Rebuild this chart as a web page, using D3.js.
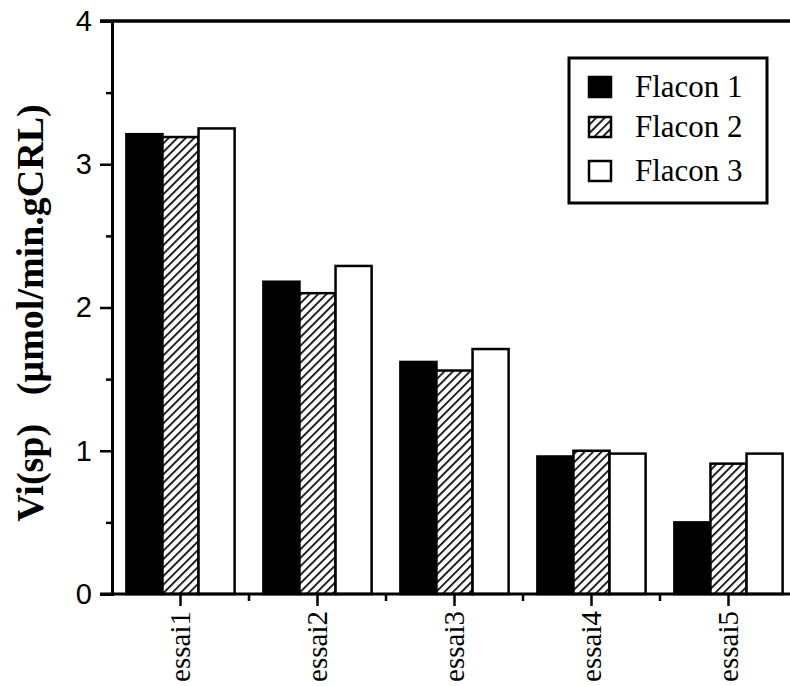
<!DOCTYPE html>
<html><head><meta charset="utf-8">
<script src="https://cdn.jsdelivr.net/npm/d3@7"></script>
<style>html,body{margin:0;padding:0;background:#fff;}svg{display:block;}
.serif{font-family:"Liberation Serif","Times New Roman","DejaVu Serif",serif;}
.sans{font-family:"Liberation Sans",Arial,Helvetica,sans-serif;}
</style>
</head><body>
<svg id="c" width="790" height="686"></svg>
<script>
const categories = ["essai1","essai2","essai3","essai4","essai5"];
const seriesNames = ["Flacon 1","Flacon 2","Flacon 3"];
const flacon1 = [3.21, 2.18, 1.62, 0.96, 0.50];
const flacon2 = [3.19, 2.10, 1.56, 1.00, 0.91];
const flacon3 = [3.25, 2.29, 1.71, 0.98, 0.98];
const yTicks = [0, 1, 2, 3, 4];
const yMinorTicks = [0.5, 1.5, 2.5, 3.5];
const yTitle = "Vi(sp)\u00A0\u00A0\u00A0(\u00B5mol/min.gCRL)";

const series = [flacon1, flacon2, flacon3];
const svg = d3.select("#c");
const defs = svg.append("defs");
const pat = defs.append("pattern").attr("id","hatch").attr("patternUnits","userSpaceOnUse")
  .attr("width",6).attr("height",6).attr("patternTransform","rotate(45)");
pat.append("rect").attr("width",6).attr("height",6).attr("fill","#fff");
pat.append("line").attr("x1",0).attr("y1",0).attr("x2",0).attr("y2",6).attr("stroke","#000").attr("stroke-width",3.4);

const fills = ["#000","url(#hatch)","#fff"];

const x = d3.scaleBand().domain(categories).range([112, 797]).paddingInner(0.21).paddingOuter(0.105);
const xs = d3.scaleBand().domain([0,1,2]).range([0, x.bandwidth()]);
const y = d3.scaleLinear().domain([0,4]).range([594, 21]);

// bars
const g = svg.append("g");
categories.forEach((c, i) => {
  series.forEach((s, j) => {
    g.append("rect")
      .attr("x", x(c) + xs(j))
      .attr("y", y(s[i]))
      .attr("width", xs.bandwidth())
      .attr("height", y(0) - y(s[i]))
      .attr("fill", fills[j])
      .attr("stroke", "#000").attr("stroke-width", 2.5);
  });
});

// frame lines
svg.append("line").attr("x1",100).attr("x2",800).attr("y1",y(4)).attr("y2",y(4)).attr("stroke","#000").attr("stroke-width",3.5);
svg.append("line").attr("x1",100).attr("x2",800).attr("y1",y(0)).attr("y2",y(0)).attr("stroke","#000").attr("stroke-width",3);

// y axis
const yAxis = d3.axisLeft(y).tickValues(yTicks).tickSize(12).tickPadding(8).tickFormat(d3.format("d"));
const ya = svg.append("g").attr("transform","translate(112,0)").call(yAxis);
ya.attr("font-family", null).attr("font-size", null).attr("class","sans");
ya.select(".domain").attr("stroke-width",3);
ya.selectAll(".tick line").attr("stroke-width",2.5);
ya.selectAll("text").style("font-size","29px").attr("fill","#000");
const yMinor = d3.axisLeft(y).tickValues(yMinorTicks).tickSize(6).tickFormat("");
const ym = svg.append("g").attr("transform","translate(112,0)").call(yMinor);
ym.select(".domain").remove();
ym.selectAll(".tick line").attr("stroke-width",2.5);

// x axis
const xa = svg.append("g").attr("transform",`translate(0,${y(0)})`).call(d3.axisBottom(x).tickSize(12).tickFormat(""));
xa.select(".domain").remove();
xa.selectAll(".tick line").attr("stroke-width",2.5);
const bounds = categories.map(c => x(c) - x.step()*x.paddingInner()/2);
svg.append("g").selectAll("line").data(bounds.slice(1)).join("line")
  .attr("x1", d => d).attr("x2", d => d).attr("y1", y(0)).attr("y2", y(0)+7)
  .attr("stroke","#000").attr("stroke-width",2.5);
svg.append("g").attr("class","serif").selectAll("text").data(categories).join("text")
  .attr("transform", d => `translate(${x(d)+x.bandwidth()/2},611) rotate(-90)`)
  .attr("text-anchor","end").attr("dy","0.33em")
  .style("font-size","29px")
  .text(d => d);

// y title
svg.append("text").attr("class","serif").attr("transform","translate(43,313) rotate(-90)")
  .attr("text-anchor","middle")
  .style("font-weight","bold").style("font-size","38px")
  .text(yTitle);

// legend
const lg = svg.append("g");
lg.append("rect").attr("x",569).attr("y",58).attr("width",198).attr("height",145).attr("fill","#fff").attr("stroke","#000").attr("stroke-width",3);
const rowY = [87, 127, 171];
seriesNames.forEach((n, j) => {
  lg.append("rect").attr("x",589).attr("y",rowY[j]-10).attr("width",22).attr("height",20)
    .attr("fill", fills[j]).attr("stroke","#000").attr("stroke-width",2.5);
  lg.append("text").attr("class","serif").attr("x",635).attr("y",rowY[j]).attr("dy","0.33em")
    .style("font-size","31px")
    .text(n);
});
</script>
</body></html>
